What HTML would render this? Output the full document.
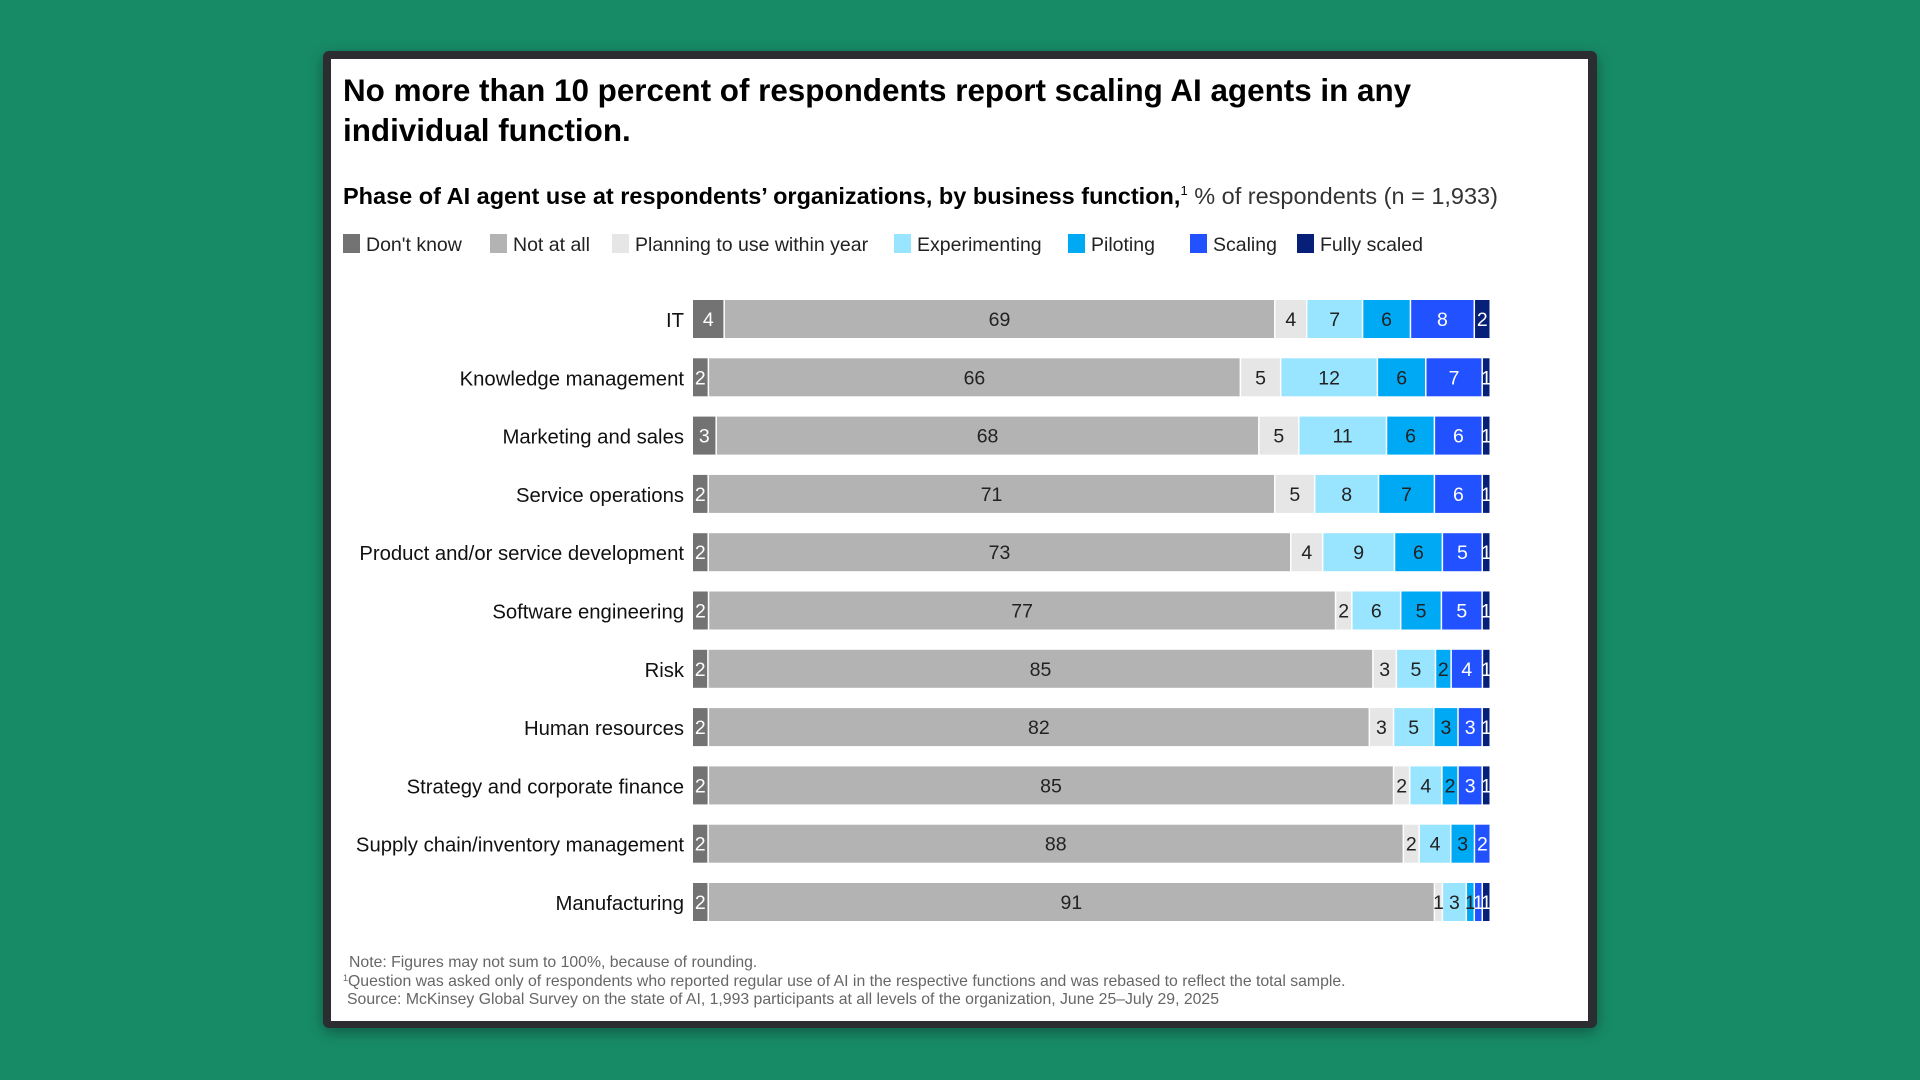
<!DOCTYPE html>
<html><head><meta charset="utf-8"><style>
html,body{margin:0;padding:0;}
body{width:1920px;height:1080px;background:#178b66;overflow:hidden;position:relative;font-family:"Liberation Sans",sans-serif;}
#frame{position:absolute;left:323px;top:51px;width:1274px;height:977px;background:#2b2d31;border-radius:6px;box-shadow:0 4px 14px rgba(0,0,0,.35);}
#card{position:absolute;left:331px;top:59px;width:1257px;height:962px;background:#fff;}
</style></head><body>
<div id="frame"></div>
<div id="card"></div>
<svg id="chart" width="1920" height="1080" style="position:absolute;left:0;top:0">
<text x="343" y="101" font-size="31.4" font-weight="bold" fill="#000">No more than 10 percent of respondents report scaling AI agents in any</text>
<text x="343" y="141" font-size="31.4" font-weight="bold" fill="#000">individual function.</text>
<text x="343" y="204" font-size="23.5" fill="#000"><tspan font-weight="bold">Phase of AI agent use at respondents’ organizations, by business function,</tspan><tspan font-size="13" dy="-9">1</tspan><tspan dy="9" fill="#333"> % of respondents (n = 1,933)</tspan></text>
<g id="legend"></g>
<g id="bars"></g>
<text x="349" y="967" font-size="15.8" fill="#666">Note: Figures may not sum to 100%, because of rounding.</text>
<text x="343" y="986" font-size="15.8" fill="#666"><tspan font-size="9" dy="-5">1</tspan><tspan dy="5">Question was asked only of respondents who reported regular use of AI in the respective functions and was rebased to reflect the total sample.</tspan></text>
<text x="347" y="1004" font-size="15.8" fill="#666">Source: McKinsey Global Survey on the state of AI, 1,993 participants at all levels of the organization, June 25–July 29, 2025</text>
</svg>
<script>
const categories=["IT","Knowledge management","Marketing and sales","Service operations","Product and/or service development","Software engineering","Risk","Human resources","Strategy and corporate finance","Supply chain/inventory management","Manufacturing"];
const seriesNames=["Don't know","Not at all","Planning to use within year","Experimenting","Piloting","Scaling","Fully scaled"];
const dontKnow=[4,2,3,2,2,2,2,2,2,2,2];
const notAtAll=[69,66,68,71,73,77,85,82,85,88,91];
const planning=[4,5,5,5,4,2,3,3,2,2,1];
const experimenting=[7,12,11,8,9,6,5,5,4,4,3];
const piloting=[6,6,6,7,6,5,2,3,2,3,1];
const scaling=[8,7,6,6,5,5,4,3,3,2,1];
const fullyScaled=[2,1,1,1,1,1,1,1,1,0,1];
const series=[dontKnow,notAtAll,planning,experimenting,piloting,scaling,fullyScaled];
const colors=["#737373","#b3b3b3","#e6e6e6","#99e5ff","#00a9f4","#2251ff","#061f79"];
const textColors=["#fff","#222","#222","#222","#222","#fff","#fff"];
const NS="http://www.w3.org/2000/svg";
const X0=693,X1=1491,ROW0=319,STEP=58.3,BH=38;
function yPos(i){return ROW0+i*STEP;}
function mk(tag,attrs,parent){const e=document.createElementNS(NS,tag);for(const k in attrs)e.setAttribute(k,attrs[k]);parent.appendChild(e);return e;}
const bars=document.getElementById('bars');
categories.forEach((c,i)=>{
  const lab=mk('text',{x:684,y:yPos(i)+8,'font-size':20.3,'text-anchor':'end',fill:'#111'},bars);
  
  
  lab.textContent=c;
  let total=0;series.forEach(s=>total+=s[i]);
  const scale=v=>v/total*(X1-X0);
  let x=X0;
  series.forEach((s,j)=>{
    const v=s[i];if(!v)return;
    const w=scale(v);
    const r=mk('rect',{x:x,y:yPos(i)-BH/2,width:Math.max(w-1.5,0.8),height:BH,fill:colors[j]},bars);
    
    
    const t=mk('text',{x:x+w/2-0.7,y:yPos(i)+7,'font-size':19.5,'text-anchor':'middle',fill:textColors[j]},bars);
    
    
    t.textContent=v;
    x+=w;
  });
});
const legend=document.getElementById('legend');
const legX=[343,490,612,894,1068,1190,1297];
seriesNames.forEach((n,j)=>{
  const r=mk('rect',{x:legX[j],y:234,width:17,height:19,fill:colors[j]},legend);
  
  
  const t=mk('text',{x:legX[j]+23,y:251,'font-size':19.5,fill:'#222'},legend);
  
  
  t.textContent=n;
});
</script>
</body></html>
